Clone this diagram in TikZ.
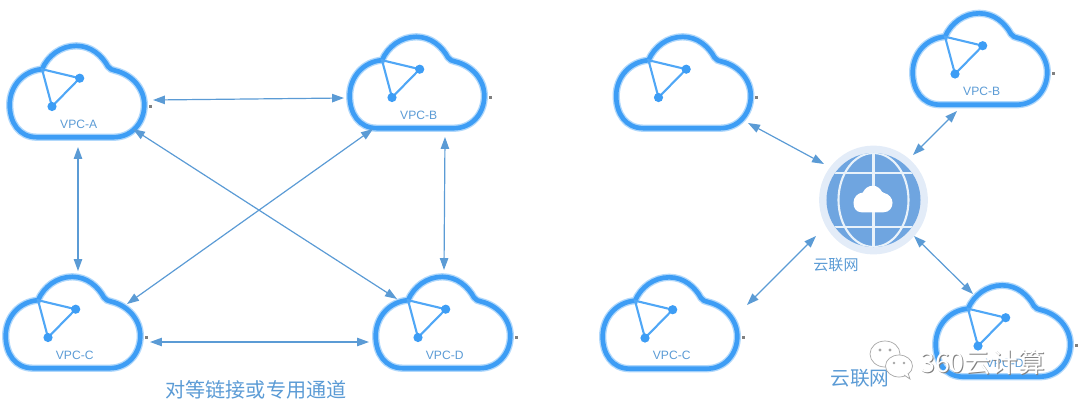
\documentclass[tikz,border=0pt]{standalone}
\usepackage{fontspec}
\setmainfont{Liberation Sans}
\newfontfamily\cjk{Noto Sans CJK SC}
\usetikzlibrary{arrows.meta,positioning}
\definecolor{cloudblue}{HTML}{3D9DF5}
\definecolor{linkblue}{HTML}{5B9BD5}
\definecolor{hubblue}{HTML}{6FA5E0}
\definecolor{hubhalo}{HTML}{E3ECF8}

% outline of one cloud, around its centre, y pointing down
\newcommand{\cloudshape}{(-40,45.7)
  .. controls (-58,45.7) and (-67.3,31) .. (-67.3,13.3)
  .. controls (-67.3,-6) and (-53,-21) .. (-35,-22.3)
  .. controls (-29,-36) and (-16,-45.7) .. (-0.7,-45.7)
  .. controls (14,-45.7) and (25,-36) .. (31,-25)
  .. controls (33,-22) and (35,-22) .. (38,-21)
  .. controls (55,-17) and (67.3,-3) .. (67.3,13.3)
  .. controls (67.3,31) and (55,45.7) .. (36.7,45.7) -- cycle}

\begin{document}
\begin{tikzpicture}[
    x=0.025cm, y=-0.025cm,
    cloudglow/.style={draw=cloudblue!40, line width=5.2pt},
    cloudline/.style={draw=cloudblue, line width=3.3pt},
    spoke/.style={draw=cloudblue!90, line width=1.5pt},
    cloudbox/.style={rectangle, minimum width=3.5cm, minimum height=2.4cm, inner sep=0pt},
    vpclabel/.style={text=linkblue, font=\fontsize{8.6pt}{10pt}\selectfont, inner sep=0pt},
    caption/.style={text=linkblue, font=\cjk\fontsize{#1}{#1}\selectfont, inner sep=0pt},
    hubnode/.style={circle, fill=hubhalo, minimum size=2.72cm, inner sep=0pt},
    hubdisc/.style={circle, fill=hubblue, minimum size=2.35cm, inner sep=0pt},
    hubline/.style={draw=white!85!hubblue, line width=1.5pt},
    arrow/.style={{Stealth[length=8.5pt,width=6pt,inset=0pt]}-{Stealth[length=8.5pt,width=6pt,inset=0pt]}, draw=linkblue, line width=0.85pt},
    wmbubble/.style={draw=gray!70, fill=white, line width=0.5pt},
    pics/cloud/.style={code={
      \node[cloudbox] (-body) {};
      \path[cloudglow] \cloudshape;
      \path[cloudline] \cloudshape;
      \draw[spoke] (-35,-22.3) -- (2.7,-13.3) -- (-25,15) -- cycle;
      \fill[cloudblue] (2.7,-13.3) circle (4.6);
      \fill[cloudblue] (-25,15) circle (4.6);
      \fill[gray] (71.5,13) rectangle (74.5,16);
      \node[vpclabel] (-label) at (1.7,32.7) {#1};
    }}
  ]
  \useasboundingbox (0,0) rectangle (1080,410);

  % Left group
  \pic (vpcA) at (77,91.5) {cloud={VPC-A}};
  \pic (vpcB) at (417,82.5) {cloud={VPC-B}};
  \pic (vpcC) at (73,322.5) {cloud={VPC-C}};
  \pic (vpcD) at (443,322.5) {cloud={VPC-D}};
  \node[caption=14.3pt] (meshtext) at (256,390) {对等链接或专用通道};

  \draw[arrow] ([shift={(76,8.5)}]vpcA-body.center) -- ([shift={(-73,15.5)}]vpcB-body.center);
  \draw[arrow] ([shift={(1,55.5)}]vpcA-body.center) -- ([shift={(5,-51.5)}]vpcC-body.center);
  \draw[arrow] ([shift={(56,37.5)}]vpcA-body.center) -- ([shift={(-46,-23.5)}]vpcD-body.center);
  \draw[arrow] ([shift={(-44,46.5)}]vpcB-body.center) -- ([shift={(54,-18.5)}]vpcC-body.center);
  \draw[arrow] ([shift={(28,54.5)}]vpcB-body.center) -- ([shift={(1,-52.5)}]vpcD-body.center);
  \draw[arrow] ([shift={(77,19.5)}]vpcC-body.center) -- ([shift={(-74,19.5)}]vpcD-body.center);

  % Right group
  \pic (netA) at (683.5,82.5) {cloud={}};
  \pic (netB) at (980,59) {cloud={VPC-B}};
  \pic (netC) at (670,323) {cloud={VPC-C}};
  \pic (netD) at (1003,331) {cloud={VPC-D}};

  % Hub
  \node[hubnode] (hub) at (873.5,200) {};
  \node[hubdisc] (hubglobe) at (hub.center) {};
  \begin{scope}
    \clip (hubglobe.center) circle (47);
    \draw[hubline] (hubglobe.center) ellipse (35 and 47);
    \draw[hubline] ([yshift=-40pt]hubglobe.center) -- ([yshift=40pt]hubglobe.center);
    \draw[hubline] ([shift={(-47,-27)}]hubglobe.center) -- ([shift={(47,-27)}]hubglobe.center);
    \draw[hubline] ([shift={(-47,27)}]hubglobe.center) -- ([shift={(47,27)}]hubglobe.center);
  \end{scope}
  \begin{scope}[shift={(873,199)}, scale=0.29]
    \fill[white] \cloudshape;
  \end{scope}
  \node[caption=10.7pt] (hubtext) at (836,265) {云联网};
  \node[caption=14pt] (nettext) at (860,378) {云联网};

  \draw[arrow] ([shift={(64.5,40.5)}]netA-body.center) -- ([shift={(-49.5,-36)}]hub.center);
  \draw[arrow] ([shift={(-23,52)}]netB-body.center) -- ([shift={(39.5,-45)}]hub.center);
  \draw[arrow] ([shift={(77,-18)}]netC-body.center) -- ([shift={(-57.5,36)}]hub.center);
  \draw[arrow] ([shift={(-30,-37)}]netD-body.center) -- ([shift={(40.5,36)}]hub.center);

  % Watermark
  \fill[wmbubble] (885,354) ellipse (15 and 13);
  \fill[gray!70] (880,350) circle (1.6) (890,350) circle (1.6);
  \path[wmbubble] (899,366) ellipse (13.5 and 11);
  \path[wmbubble] (904,375) -- (910,379) -- (908,373);
  \fill[gray!70] (894,363) circle (1.4) (904,363) circle (1.4);
  \node[inner sep=0pt, text=gray, font=\cjk\fontsize{19pt}{19pt}\selectfont] (markshadow) at (983.5,363.5) {360云计算};
  \node[inner sep=0pt, text=white, font=\cjk\fontsize{19pt}{19pt}\selectfont] (marktext) at (982.5,362.5) {360云计算};
\end{tikzpicture}
\end{document}
